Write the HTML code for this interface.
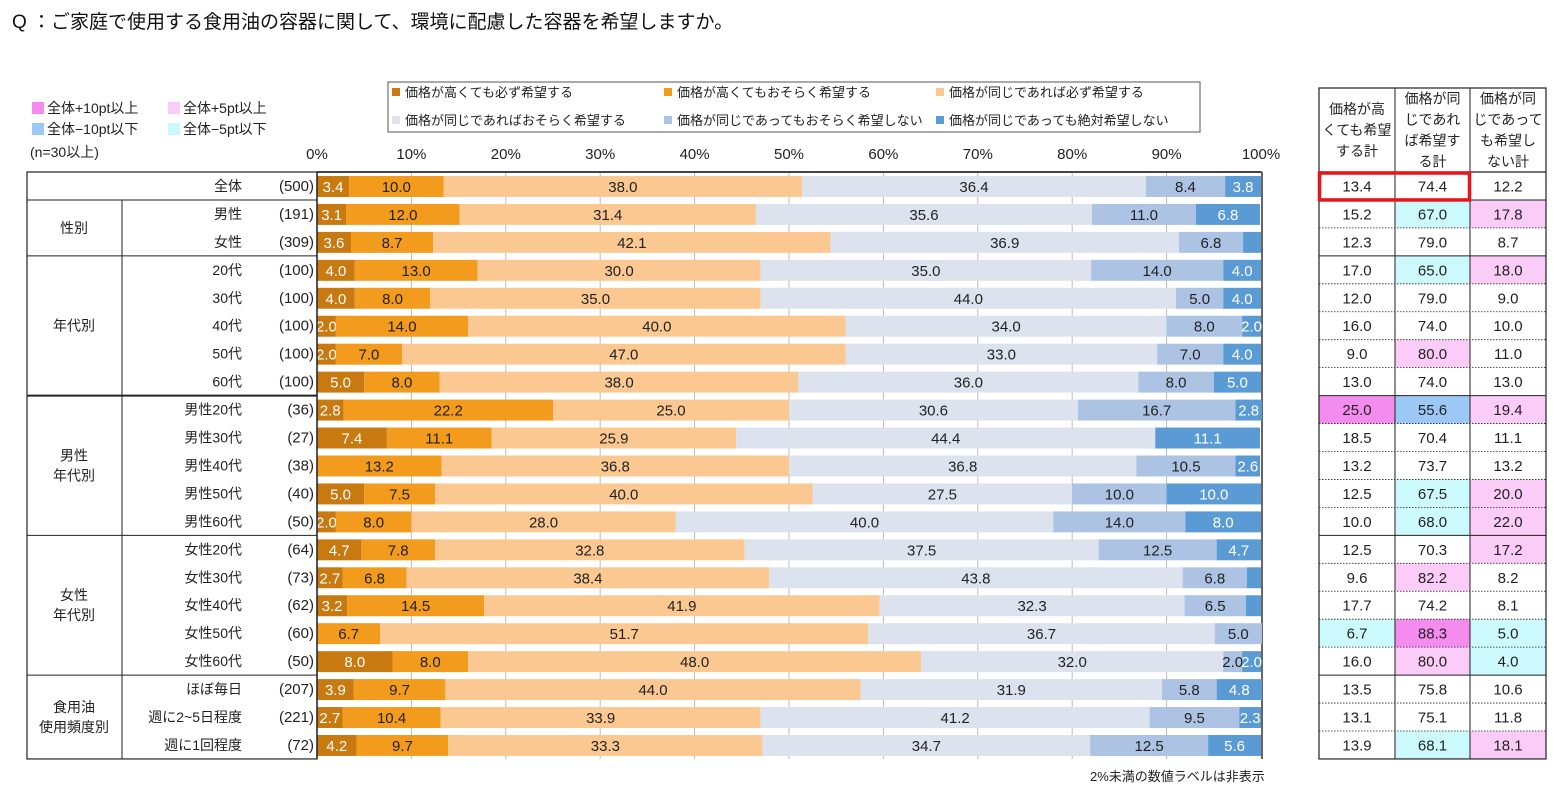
<!DOCTYPE html>
<html><head><meta charset="utf-8"><style>
html,body{margin:0;padding:0;background:#fff;}
svg{display:block;font-family:"Liberation Sans","Noto Sans CJK JP",sans-serif;}
</style></head><body>
<svg id="chart" width="1561" height="793" xmlns="http://www.w3.org/2000/svg">
<text x="12" y="28" font-size="19" fill="#111">Q ：ご家庭で使用する食用油の容器に関して、環境に配慮した容器を希望しますか。</text>
<g font-size="14" fill="#222">
<rect x="32" y="102" width="12" height="12" fill="#F48CF0"/><text x="47" y="113">全体+10pt以上</text>
<rect x="168" y="102" width="12" height="12" fill="#FBCCF8"/><text x="183" y="113">全体+5pt以上</text>
<rect x="32" y="123" width="12" height="12" fill="#9CC8F5"/><text x="47" y="134">全体−10pt以下</text>
<rect x="168" y="123" width="12" height="12" fill="#CCFAFC"/><text x="183" y="134">全体−5pt以下</text>
<text x="30" y="157">(n=30以上)</text>
</g>
<g font-size="13" fill="#222">
<rect x="388" y="82" width="812" height="50" fill="#fff" stroke="#555"/>
<g id="legItems"></g>
</g>
<g id="grid"></g>
<g id="bars"></g>
<g id="lefttable"></g>
<g id="righttable"></g>
<text x="1090" y="781" font-size="13" fill="#222">2%未満の数値ラベルは非表示</text>
</svg>
<script>
const seriesNames=["価格が高くても必ず希望する","価格が高くてもおそらく希望する","価格が同じであれば必ず希望する","価格が同じであればおそらく希望する","価格が同じであってもおそらく希望しない","価格が同じであっても絶対希望しない"];
const rowLabels=["全体","男性","女性","20代","30代","40代","50代","60代","男性20代","男性30代","男性40代","男性50代","男性60代","女性20代","女性30代","女性40代","女性50代","女性60代","ほぼ毎日","週に2~5日程度","週に1回程度"];
const rowN=[500,191,309,100,100,100,100,100,36,27,38,40,50,64,73,62,60,50,207,221,72];
const s1=[3.4,3.1,3.6,4.0,4.0,2.0,2.0,5.0,2.8,7.4,0,5.0,2.0,4.7,2.7,3.2,0,8.0,3.9,2.7,4.2];
const s2=[10.0,12.0,8.7,13.0,8.0,14.0,7.0,8.0,22.2,11.1,13.2,7.5,8.0,7.8,6.8,14.5,6.7,8.0,9.7,10.4,9.7];
const s3=[38.0,31.4,42.1,30.0,35.0,40.0,47.0,38.0,25.0,25.9,36.8,40.0,28.0,32.8,38.4,41.9,51.7,48.0,44.0,33.9,33.3];
const s4=[36.4,35.6,36.9,35.0,44.0,34.0,33.0,36.0,30.6,44.4,36.8,27.5,40.0,37.5,43.8,32.3,36.7,32.0,31.9,41.2,34.7];
const s5=[8.4,11.0,6.8,14.0,5.0,8.0,7.0,8.0,16.7,0,10.5,10.0,14.0,12.5,6.8,6.5,5.0,2.0,5.8,9.5,12.5];
const s6=[3.8,6.8,1.9,4.0,4.0,2.0,4.0,5.0,2.8,11.1,2.6,10.0,8.0,4.7,1.5,1.6,0,2.0,4.8,2.3,5.6];
const totHigh=[13.4,15.2,12.3,17.0,12.0,16.0,9.0,13.0,25.0,18.5,13.2,12.5,10.0,12.5,9.6,17.7,6.7,16.0,13.5,13.1,13.9];
const totSame=[74.4,67.0,79.0,65.0,79.0,74.0,80.0,74.0,55.6,70.4,73.7,67.5,68.0,70.3,82.2,74.2,88.3,80.0,75.8,75.1,68.1];
const totNot=[12.2,17.8,8.7,18.0,9.0,10.0,11.0,13.0,19.4,11.1,13.2,20.0,22.0,17.2,8.2,8.1,5.0,4.0,10.6,11.8,18.1];
const ticks=[0,10,20,30,40,50,60,70,80,90,100];
const groups=[["",0,0],["性別",1,2],["年代別",3,7],["男性\n年代別",8,12],["女性\n年代別",13,17],["食用油\n使用頻度別",18,20]];

const colors=["#C8790F","#F29B1D","#FBC891","#DCE3EE","#ADC3E3","#5B9BD5"];
const textCols=["#fff","#222","#222","#222","#222","#fff"];
const NS="http://www.w3.org/2000/svg";
const X0=317,X1=1261,Y0=172,RH=27.95;
const xs=v=>X0+(X1-X0)*v/100;
const ys=i=>Y0+i*RH;
function mk(tag,attrs,parent,txt){const e=document.createElementNS(NS,tag);for(const k in attrs)e.setAttribute(k,attrs[k]);if(txt!==undefined)e.textContent=txt;parent.appendChild(e);return e;}
const n=rowLabels.length;

const leg=document.getElementById('legItems');
seriesNames.forEach((nm,i)=>{
  const lx=392+(i%3)*272, ly=(i<3)?93:121;
  const g=mk('g',{},leg);
  
  
  mk('rect',{x:lx,y:ly-5,width:8,height:8,fill:colors[i]},g);
  mk('text',{x:lx+13,y:ly+4,'font-size':13,fill:'#222'},g,nm);
});

const grid=document.getElementById('grid');
ticks.forEach(t=>{
  const tl=mk('text',{x:xs(t),y:159,'font-size':15,'text-anchor':'middle',fill:'#222'},grid,t+'%');
  
  
  if(t>0&&t<100){mk('line',{x1:xs(t),x2:xs(t),y1:Y0,y2:ys(n),stroke:'#bbb','stroke-width':1},grid);}
});
mk('line',{x1:X0,x2:X1+1,y1:Y0,y2:Y0,stroke:'#444','stroke-width':2},grid);
mk('line',{x1:X1+1,x2:X1+1,y1:Y0,y2:ys(n),stroke:'#666','stroke-width':2},grid);

const bars=document.getElementById('bars');
const series=[s1,s2,s3,s4,s5,s6];
for(let r=0;r<n;r++){
  let acc=0;
  const y=ys(r)+4,h=RH-7;
  for(let s=0;s<6;s++){
    const v=series[s][r];
    if(v>0){
      const rc=mk('rect',{x:xs(acc),y:y,width:xs(acc+v)-xs(acc),height:h,fill:colors[s]},bars);
      
      
      if(v>=2){
        mk('text',{x:(xs(acc)+xs(acc+v))/2,y:y+h/2+5.5,'font-size':15,'text-anchor':'middle',fill:textCols[s]},bars,v.toFixed(1));
      }
    }
    acc+=v;
  }
}
mk('line',{x1:X0,x2:X0,y1:Y0,y2:ys(n),stroke:'#444','stroke-width':1.5},bars);

const lt=document.getElementById('lefttable');
mk('rect',{x:27,y:Y0,width:X0-27,height:ys(n)-Y0,fill:'none',stroke:'#222','stroke-width':1.2},lt);
mk('line',{x1:122,x2:122,y1:ys(1),y2:ys(n),stroke:'#222','stroke-width':1},lt);
groups.forEach(([nm,a,b])=>{
  if(a>0){mk('line',{x1:27,x2:X0,y1:ys(a),y2:ys(a),stroke:'#222','stroke-width':a===8?2:1},lt);}
  if(nm){
    const lines=nm.split('\n');const cy=(ys(a)+ys(b+1))/2;
    lines.forEach((ln,k)=>{
      const t=mk('text',{x:74,y:cy+5+(k-(lines.length-1)/2)*20,'font-size':14,'text-anchor':'middle',fill:'#222'},lt,ln);
      
      
    });
  }
});
for(let r=0;r<n;r++){
  const t=mk('text',{x:242,y:ys(r)+RH/2+5,'font-size':14,'text-anchor':'end',fill:'#222'},lt,rowLabels[r]);
  
  
  mk('text',{x:314,y:ys(r)+RH/2+5,'font-size':15,'text-anchor':'end',fill:'#222'},lt,'('+rowN[r]+')');
}

const rt=document.getElementById('righttable');
const cx=[1319,1395,1470,1546];
function hl(v,base){const d=v-base;if(d>=10)return '#F48CF0';if(d>=5)return '#FBCCF8';if(d<=-10)return '#9CC8F5';if(d<=-5)return '#CCFAFC';return '#fff';}
const cols=[totHigh,totSame,totNot];
const boundaries=[1,3,8,13,18];
for(let r=0;r<n;r++){
  cols.forEach((arr,c)=>{
    const fill=(r===0||rowN[r]<30)?'#fff':hl(arr[r],arr[0]);
    const cell=mk('rect',{x:cx[c],y:ys(r),width:cx[c+1]-cx[c],height:RH,fill:fill},rt);
    
    
    mk('text',{x:(cx[c]+cx[c+1])/2,y:ys(r)+RH/2+5.5,'font-size':15,'text-anchor':'middle',fill:'#222'},rt,arr[r].toFixed(1));
  });
  if(r>0){mk('line',{x1:1319,x2:1546,y1:ys(r),y2:ys(r),stroke:'#222','stroke-width':boundaries.includes(r)?1:0.8,'stroke-dasharray':boundaries.includes(r)?'none':'1.5,1.5'},rt);}
}
mk('rect',{x:1319,y:88,width:227,height:ys(n)-88,fill:'none',stroke:'#222','stroke-width':1.2},rt);
mk('line',{x1:1319,x2:1546,y1:Y0,y2:Y0,stroke:'#222','stroke-width':1.2},rt);
[1395,1470].forEach(x=>mk('line',{x1:x,x2:x,y1:88,y2:ys(n),stroke:'#222','stroke-width':1},rt));
const heads=[["価格が高","くても希望","する計"],["価格が同","じであれ","ば希望す","る計"],["価格が同","じであって","も希望し","ない計"]];
heads.forEach((h,c)=>{
  const cy=130;
  h.forEach((ln,k)=>{
    const t=mk('text',{x:(cx[c]+cx[c+1])/2,y:cy+5+(k-(h.length-1)/2)*21,'font-size':14,'text-anchor':'middle',fill:'#222'},rt,ln);
    
    
  });
});
const rb=mk('rect',{x:1319.5,y:Y0+1,width:150,height:RH-1,fill:'none',stroke:'#E8141B','stroke-width':3.5},rt);


</script>
</body></html>
